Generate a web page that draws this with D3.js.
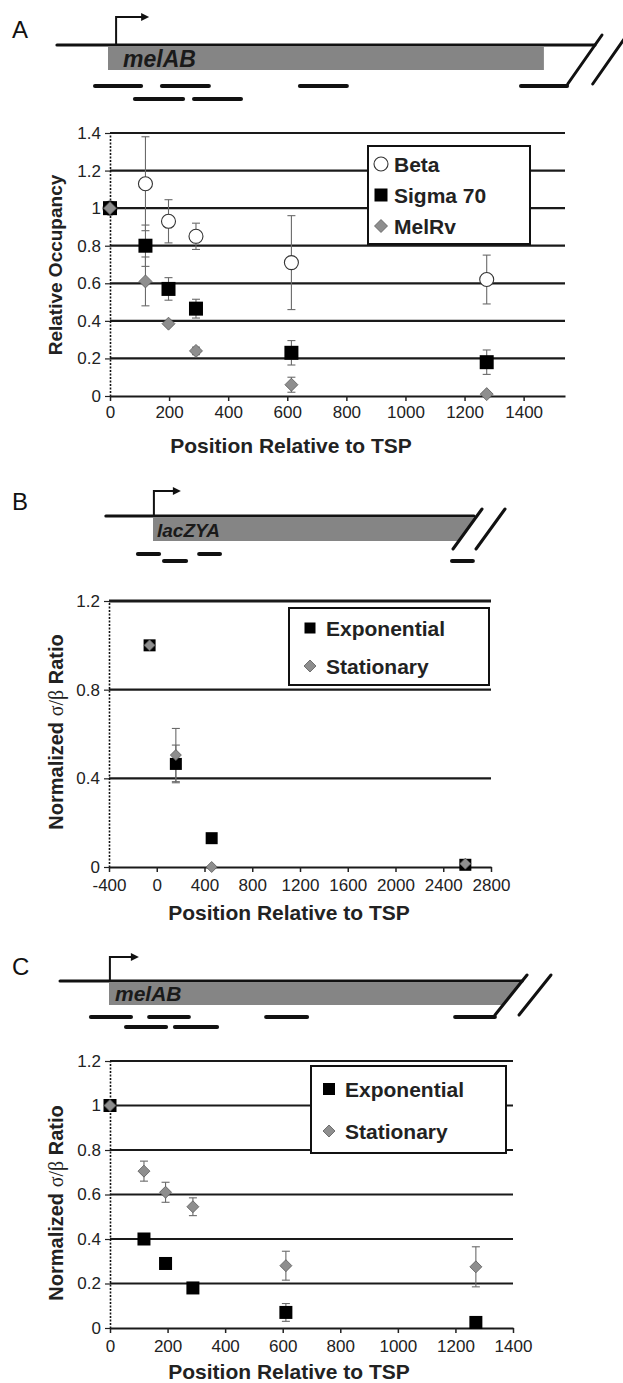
<!DOCTYPE html>
<html><head><meta charset="utf-8">
<script src="https://cdn.jsdelivr.net/npm/d3@7"></script>
<style>body{margin:0;background:#fff}svg{display:block}text{font-family:"Liberation Sans",Arial,Helvetica,sans-serif}</style>
</head><body><svg id="c" width="623" height="1383"></svg>
<script>
// ---------- Panel A data ----------
const positionsA = [0, 120, 198, 291, 614, 1275];
const betaA      = [1.0, 1.13, 0.93, 0.85, 0.71, 0.62];
const betaErrA   = [0, 0.25, 0.115, 0.07, 0.25, 0.13];
const sigmaA     = [1.0, 0.80, 0.57, 0.465, 0.23, 0.18];
const sigmaErrA  = [0, 0.11, 0.06, 0.05, 0.065, 0.065];
const melrvA     = [1.0, 0.61, 0.385, 0.24, 0.06, 0.01];
const melrvErrA  = [0, 0.13, 0.01, 0.02, 0.04, 0.01];
const xTicksA = [0, 200, 400, 600, 800, 1000, 1200, 1400];
const yTicksA = [0, 0.2, 0.4, 0.6, 0.8, 1.0, 1.2, 1.4];
const legendA = ["Beta", "Sigma 70", "MelRv"];

// ---------- Panel B data ----------
const positionsB = [-60, 160, 460, 2585];
const expB       = [1.0, 0.465, 0.13, 0.01];
const expErrB    = [0, 0.085, 0, 0];
const statB      = [1.0, 0.505, 0.0, 0.015];
const statErrB   = [0, 0.12, 0, 0];
const xTicksB = [-400, 0, 400, 800, 1200, 1600, 2000, 2400, 2800];
const yTicksB = [0, 0.4, 0.8, 1.2];
const legendB = ["Exponential", "Stationary"];

// ---------- Panel C data ----------
const positionsC = [0, 118, 193, 288, 611, 1271];
const expC       = [1.0, 0.40, 0.29, 0.18, 0.07, 0.025];
const expErrC    = [0, 0.01, 0.02, 0.01, 0.04, 0.025];
const statC      = [1.0, 0.705, 0.61, 0.545, 0.28, 0.275];
const statErrC   = [0, 0.045, 0.045, 0.04, 0.065, 0.09];
const xTicksC = [0, 200, 400, 600, 800, 1000, 1200, 1400];
const yTicksC = [0, 0.2, 0.4, 0.6, 0.8, 1.0, 1.2];
const legendC = ["Exponential", "Stationary"];

// ---------- Gene diagrams (relative units) ----------
const geneLabels = ["melAB", "lacZYA", "melAB"];
const geneLineA = [-170, 1623], geneBoxA = [0, 1453], tssA = 27;
const fragRow1A = [[-50, 117], [173, 343], [633, 803], [1370, 1537]];
const fragRow2A = [[83, 257], [280, 450]];
const geneLineB = [-157, 1070], tssB = 3;
const fragRow1B = [[-57, 27], [147, 230]];
const fragRow2B = [[30, 117], [990, 1073]];
const geneLineC = [-163, 1377], tssC = 3;
const fragRow1C = [[-67, 80], [127, 273], [517, 667], [1147, 1293]];
const fragRow2C = [[50, 197], [213, 367]];

const svg = d3.select("#c");
const fmtY = d => (d === 0 ? "0" : d === 1 ? "1" : String(+d.toFixed(1)));
const fmtX = d => String(d);

function marker(g, shape, cx, cy, size) {
  if (shape === "circle") {
    g.append("circle").attr("cx", cx).attr("cy", cy).attr("r", size / 2)
      .attr("fill", "#fff").attr("stroke", "#333").attr("stroke-width", 1.1);
  } else if (shape === "square") {
    g.append("rect").attr("x", cx - size / 2).attr("y", cy - size / 2)
      .attr("width", size).attr("height", size).attr("fill", "#000");
  } else {
    const h = size / 2;
    g.append("path").attr("d", `M${cx},${cy - h}L${cx + h},${cy}L${cx},${cy + h}L${cx - h},${cy}Z`)
      .attr("fill", "#8e8e8e").attr("stroke", "#5a5a5a").attr("stroke-width", 0.8);
  }
}

function drawChart(p) {
  const x = d3.scaleLinear().domain(p.xDomain).range([p.left, p.right]);
  const y = d3.scaleLinear().domain(p.yDomain).range([p.bottom, p.top]);
  const g = svg.append("g");
  // grid lines
  g.selectAll("line.grid").data(p.yTicks.filter(d => d > 0)).join("line")
    .attr("x1", p.left).attr("x2", p.right)
    .attr("y1", d => y(d)).attr("y2", d => y(d))
    .attr("stroke", "#1a1a1a").attr("stroke-width", d => d === p.yDomain[1] && p.thickTop ? 3 : 2.2);
  // y axis
  const ya = g.append("g").attr("transform", `translate(${p.left},0)`)
    .call(d3.axisLeft(y).tickValues(p.yTicks).tickFormat(fmtY).tickSize(5).tickSizeOuter(0).tickPadding(4));
  ya.select(".domain").attr("stroke", "#111").attr("stroke-width", 1.6).attr("stroke-dasharray", "2,1.5");
  ya.selectAll(".tick line").attr("stroke", "#222").attr("stroke-width", 1.2);
  ya.selectAll(".tick text").attr("font-size", 17).attr("fill", "#222")
    .style("font-family", '"Liberation Sans",Arial,sans-serif');
  // x axis
  const xa = g.append("g").attr("transform", `translate(0,${p.bottom})`)
    .call(d3.axisBottom(x).tickValues(p.xTicks).tickFormat(fmtX).tickSize(5).tickSizeOuter(0).tickPadding(p.xPad));
  xa.select(".domain").attr("stroke", "#1a1a1a").attr("stroke-width", 2.2);
  xa.selectAll(".tick line").attr("stroke", "#222").attr("stroke-width", 1.5);
  xa.selectAll(".tick text").attr("font-size", 17).attr("fill", "#222")
    .style("font-family", '"Liberation Sans",Arial,sans-serif');
  // error bars
  p.series.forEach(s => {
    s.x.forEach((xv, i) => {
      const e = s.err[i];
      if (!e) return;
      const cx = x(xv), y1 = y(s.y[i] + e), y2 = y(Math.max(0, s.y[i] - e));
      g.append("line").attr("x1", cx).attr("x2", cx).attr("y1", y1).attr("y2", y2)
        .attr("stroke", "#6a6a6a").attr("stroke-width", 1.1);
      [y1, y2].forEach(yy => g.append("line").attr("x1", cx - 4).attr("x2", cx + 4)
        .attr("y1", yy).attr("y2", yy).attr("stroke", "#6a6a6a").attr("stroke-width", 1.1));
    });
  });
  // markers
  p.series.forEach(s => s.x.forEach((xv, i) => marker(g, s.shape, x(xv), y(s.y[i]), s.size)));
  // legend
  const L = p.legend;
  g.append("rect").attr("x", L.x0).attr("y", L.y0).attr("width", L.x1 - L.x0).attr("height", L.y1 - L.y0)
    .attr("fill", "#fff").attr("stroke", "#111").attr("stroke-width", 2);
  L.labels.forEach((t, i) => {
    marker(g, p.series[i].shape, L.mx, L.rows[i], p.series[i].lsize);
    g.append("text").attr("x", L.tx).attr("y", L.rows[i] + 7.5).attr("font-size", 21)
      .attr("font-weight", "bold").attr("fill", "#222").text(t);
  });
  // y title
  const yt = g.append("text").attr("transform", `translate(${p.yTitleX},${p.yTitleY}) rotate(-90)`)
    .attr("text-anchor", "middle").attr("font-size", p.yTitleSize).attr("font-weight", "bold").attr("fill", "#222");
  if (p.yTitle === "sigma") {
    yt.append("tspan").text("Normalized ");
    yt.append("tspan").attr("font-weight", "normal").style("font-family", '"Liberation Serif","DejaVu Serif",serif').text("σ/β");
    yt.append("tspan").text(" Ratio");
  } else yt.text(p.yTitle);
  // x title
  g.append("text").attr("x", p.xTitleX).attr("y", p.xTitleY).attr("text-anchor", "middle")
    .attr("font-size", 21).attr("font-weight", "bold").attr("fill", "#222").text("Position Relative to TSP");
}

function drawGene(d) {
  const s = d3.scaleLinear().domain([0, 1000]).range([d.origin, d.origin + 300]);
  const g = svg.append("g");
  // panel letter
  g.append("text").attr("x", d.letterX).attr("y", d.letterY).attr("font-size", 24).attr("fill", "#111").text(d.letter);
  const slashX = (yy, dx) => d.slashTopX + dx - (yy - d.slashTopY) * d.slope;
  // gray gene box
  const bx0 = s(0), bx1top = d.boxEnd != null ? s(d.boxEnd) : slashX(d.boxTop, 0);
  const bx1bot = d.boxEnd != null ? s(d.boxEnd) : slashX(d.boxBot, 0);
  g.append("path").attr("d", `M${bx0},${d.boxTop}L${bx1top},${d.boxTop}L${bx1bot},${d.boxBot}L${bx0},${d.boxBot}Z`)
    .attr("fill", "#858585");
  g.append("text").attr("x", bx0 + d.labelDx).attr("y", d.labelY).attr("font-size", d.labelSize)
    .attr("font-weight", "bold").attr("font-style", "italic").attr("fill", "#1a1a1a").text(d.label);
  // main line
  g.append("line").attr("x1", s(d.line[0])).attr("x2", s(d.line[1])).attr("y1", d.lineY).attr("y2", d.lineY)
    .attr("stroke", "#111").attr("stroke-width", 3.2).attr("stroke-linecap", "round");
  // TSS arrow
  const ax = s(d.tss);
  g.append("path").attr("d", `M${ax},${d.lineY}V${d.lineY - d.arrowH}H${ax + d.arrowW - 6}`)
    .attr("fill", "none").attr("stroke", "#111").attr("stroke-width", 2);
  g.append("path").attr("d", `M${ax + d.arrowW},${d.lineY - d.arrowH}l-8,-4v8z`).attr("fill", "#111");
  // slashes
  [0, d.slashGap].forEach(dx => g.append("line")
    .attr("x1", slashX(d.slashTopY, dx)).attr("y1", d.slashTopY)
    .attr("x2", slashX(d.slashBotY, dx)).attr("y2", d.slashBotY)
    .attr("stroke", "#111").attr("stroke-width", 3).attr("stroke-linecap", "round"));
  // fragments
  [[d.row1, d.row1Y], [d.row2, d.row2Y]].forEach(([rows, yy]) => rows.forEach(f =>
    g.append("line").attr("x1", s(f[0]) + 2).attr("x2", s(f[1]) - 2).attr("y1", yy).attr("y2", yy)
      .attr("stroke", "#111").attr("stroke-width", 4).attr("stroke-linecap", "round")));
}

// ---------- Panel A ----------
drawGene({letter: "A", letterX: 12, letterY: 38, origin: 108, line: geneLineA, lineY: 45,
  boxEnd: geneBoxA[1], boxTop: 47, boxBot: 70, label: geneLabels[0], labelDx: 15, labelY: 67, labelSize: 23,
  tss: tssA, arrowH: 28, arrowW: 33, slashTopX: 602, slashTopY: 35, slashBotY: 84, slope: 0.7, slashGap: 25,
  row1: fragRow1A, row1Y: 86, row2: fragRow2A, row2Y: 99});
drawChart({left: 110, right: 565, top: 133, bottom: 396, xDomain: [0, 1540], yDomain: [0, 1.4],
  xTicks: xTicksA, yTicks: yTicksA, xPad: 5,
  series: [
    {x: positionsA, y: betaA, err: betaErrA, shape: "circle", size: 14, lsize: 14},
    {x: positionsA, y: sigmaA, err: sigmaErrA, shape: "square", size: 14, lsize: 13},
    {x: positionsA, y: melrvA, err: melrvErrA, shape: "diamond", size: 13, lsize: 13}],
  legend: {x0: 368, y0: 146, x1: 530, y1: 244, mx: 381, tx: 394, rows: [164, 195, 226], labels: legendA},
  yTitle: "Relative Occupancy", yTitleSize: 19, yTitleX: 62, yTitleY: 265, xTitleX: 291, xTitleY: 453});

// ---------- Panel B ----------
drawGene({letter: "B", letterX: 12, letterY: 510, origin: 153, line: geneLineB, lineY: 516,
  boxEnd: null, boxTop: 518, boxBot: 541, label: geneLabels[1], labelDx: 4, labelY: 537, labelSize: 19,
  tss: tssB, arrowH: 25, arrowW: 27, slashTopX: 482, slashTopY: 509, slashBotY: 549, slope: 0.725, slashGap: 23,
  row1: fragRow1B, row1Y: 554, row2: fragRow2B, row2Y: 561});
drawChart({left: 109, right: 491, top: 601, bottom: 867, xDomain: [-400, 2800], yDomain: [0, 1.2],
  xTicks: xTicksB, yTicks: yTicksB, xPad: 7, thickTop: true,
  series: [
    {x: positionsB, y: expB, err: expErrB, shape: "square", size: 12, lsize: 11},
    {x: positionsB, y: statB, err: statErrB, shape: "diamond", size: 11, lsize: 12}],
  legend: {x0: 289, y0: 608, x1: 489, y1: 685, mx: 310, tx: 326, rows: [628, 666], labels: legendB},
  yTitle: "sigma", yTitleSize: 20, yTitleX: 63, yTitleY: 732, xTitleX: 289, xTitleY: 920});

// ---------- Panel C ----------
drawGene({letter: "C", letterX: 12, letterY: 975, origin: 109, line: geneLineC, lineY: 981,
  boxEnd: null, boxTop: 983, boxBot: 1005, label: geneLabels[2], labelDx: 6, labelY: 1001, labelSize: 21,
  tss: tssC, arrowH: 24, arrowW: 29, slashTopX: 527, slashTopY: 975, slashBotY: 1015, slope: 0.8, slashGap: 24,
  row1: fragRow1C, row1Y: 1017, row2: fragRow2C, row2Y: 1027});
drawChart({left: 110, right: 513, top: 1061, bottom: 1328, xDomain: [0, 1400], yDomain: [0, 1.2],
  xTicks: xTicksC, yTicks: yTicksC, xPad: 7,
  series: [
    {x: positionsC, y: expC, err: expErrC, shape: "square", size: 13, lsize: 12},
    {x: positionsC, y: statC, err: statErrC, shape: "diamond", size: 12, lsize: 12}],
  legend: {x0: 311, y0: 1066, x1: 506, y1: 1153, mx: 329, tx: 345, rows: [1089, 1131], labels: legendC},
  yTitle: "sigma", yTitleSize: 20, yTitleX: 63, yTitleY: 1203, xTitleX: 289, xTitleY: 1379});
</script></body></html>
